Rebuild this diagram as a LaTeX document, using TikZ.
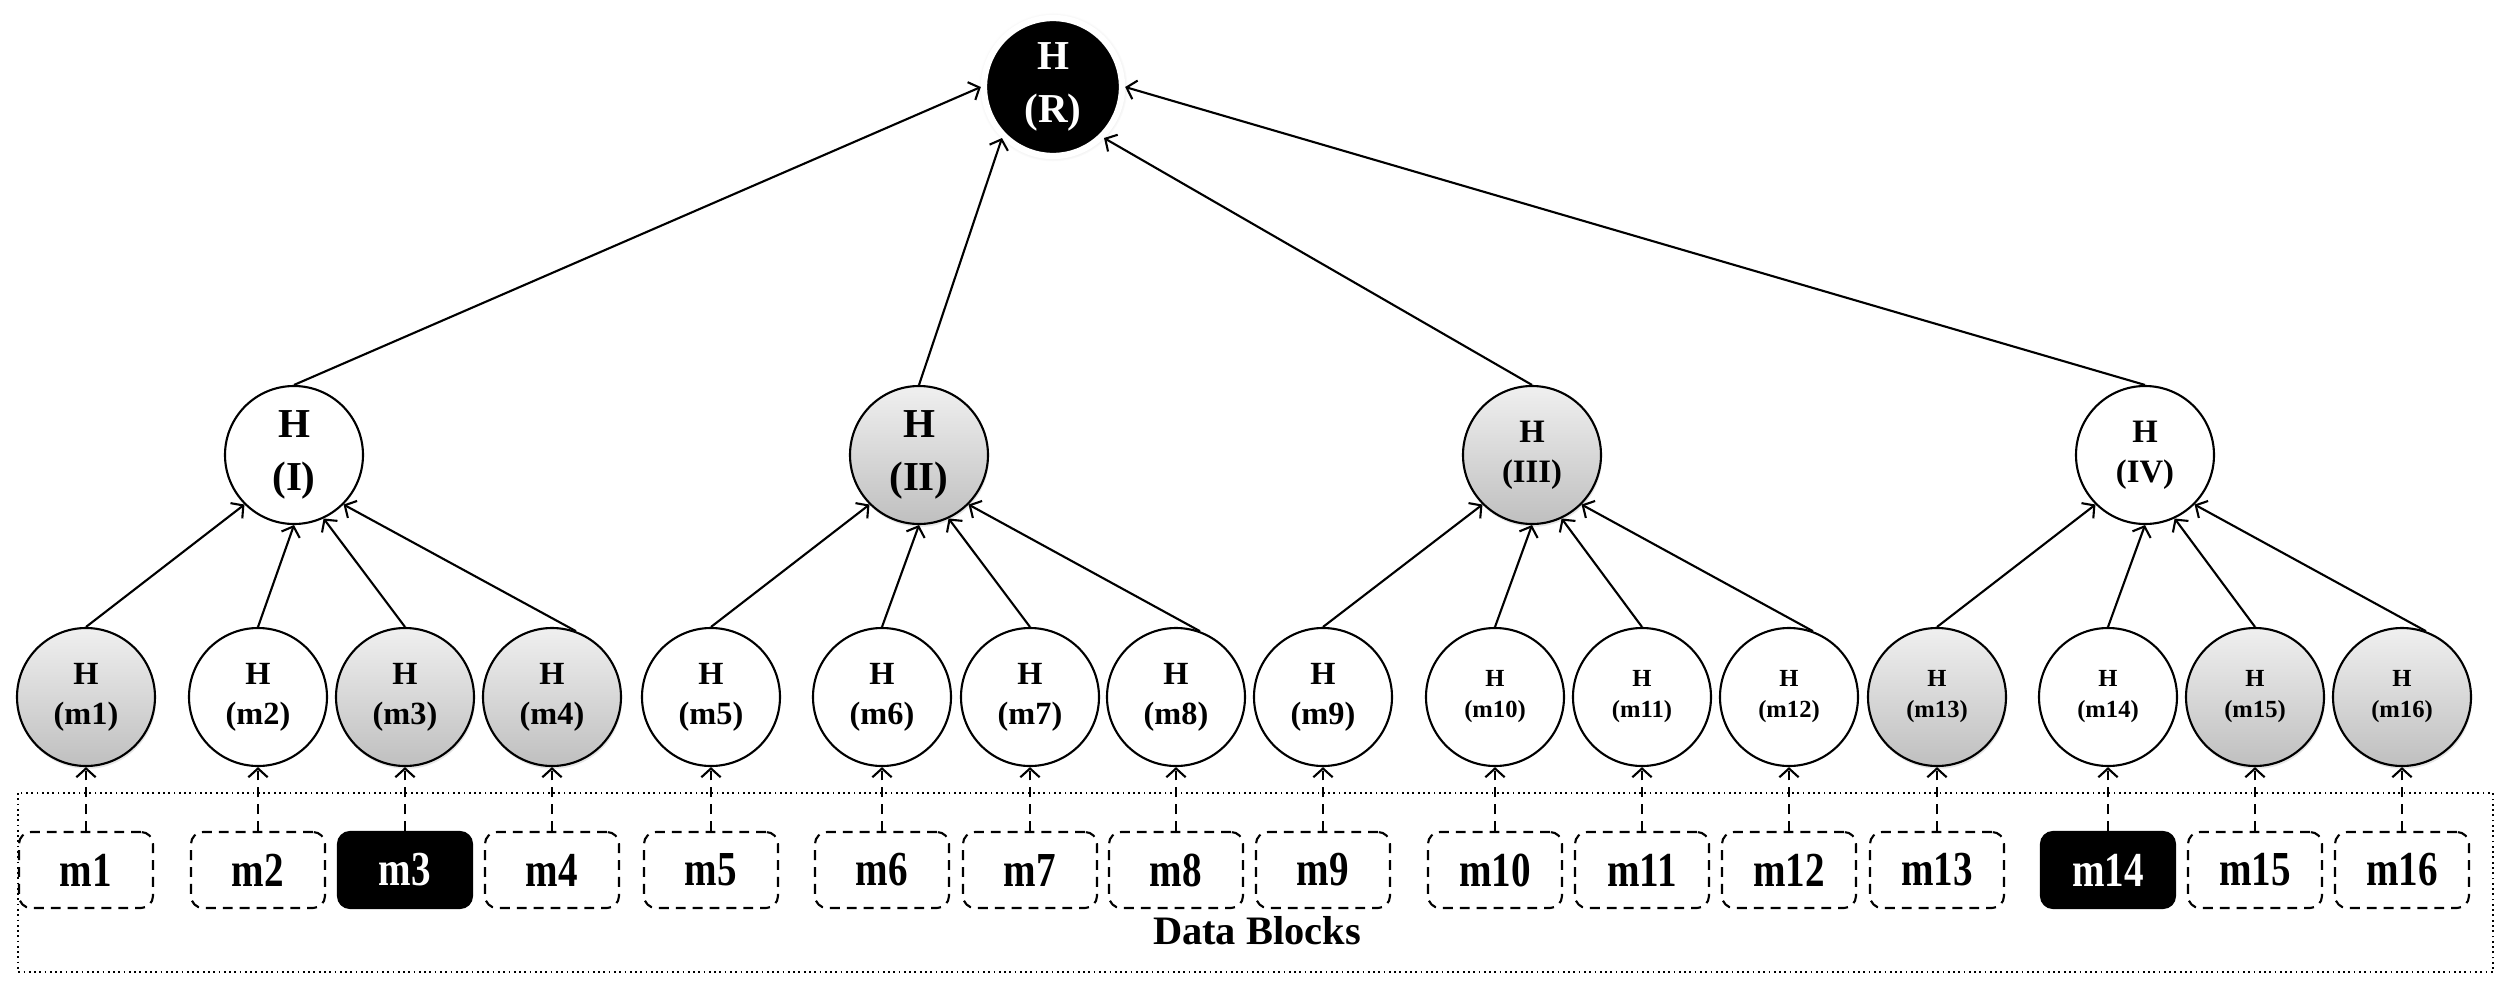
\documentclass[tikz,border=0pt]{standalone}
\usepackage{fontspec}
\setmainfont{Liberation Serif}
\newfontfamily\blockfont[FakeStretch=0.8]{Liberation Serif}
\usetikzlibrary{arrows.meta, shadows}

\begin{document}
\begin{tikzpicture}[
    hashnode/.style={draw, circle, minimum size=1.38cm, inner sep=0pt, align=center, line width=0.6pt, fill=white},
    shaded/.style={top color=gray!12, bottom color=gray!50, drop shadow={opacity=0.2, shadow xshift=0.3pt, shadow yshift=-0.8pt}},
    rootnode/.style={hashnode, fill=black, text=white, draw=white, line width=1.8pt, circular drop shadow={opacity=0.35, shadow xshift=0pt, shadow yshift=0pt, shadow scale=1.08}},
    bigtext/.style={font=\fontsize{11.7}{15.2}\selectfont\bfseries},
    midtext/.style={font=\fontsize{9.3}{11.4}\selectfont\bfseries},
    leaftext/.style={font=\fontsize{9.2}{11.4}\selectfont\bfseries},
    smalltext/.style={font=\fontsize{7}{8.8}\selectfont\bfseries},
    block/.style={draw, dash pattern=on 2.8pt off 2pt, rounded corners=0.12cm, minimum width=1.34cm, minimum height=0.76cm, inner sep=0pt, line width=0.6pt, font=\blockfont\fontsize{13.9}{16}\selectfont\bfseries},
    blockon/.style={block, solid, fill=black, text=white},
    link/.style={line width=0.6pt, -{Straight Barb[length=2.5pt, width=5.5pt]}},
    feed/.style={link, dash pattern=on 2.8pt off 2pt}
]
\useasboundingbox (0,0) rectangle (25.07,-9.81);

% ====================
% Radice
% ====================
\node[rootnode, bigtext] (HR) at (10.53,-0.87) {H\\(R)};

% ====================
% Livello intermedio
% ====================
\node[hashnode, bigtext] (HI) at (2.94,-4.55) {H\\(I)};
\node[hashnode, shaded, bigtext] (HII) at (9.19,-4.55) {H\\(II)};
\node[hashnode, shaded, midtext] (HIII) at (15.32,-4.55) {H\\(III)};
\node[hashnode, midtext] (HIV) at (21.45,-4.55) {H\\(IV)};

% ====================
% Foglie
% ====================
\node[hashnode, shaded, leaftext] (Hm1) at (0.86,-6.97) {H\\(m1)};
\node[hashnode, leaftext] (Hm2) at (2.58,-6.97) {H\\(m2)};
\node[hashnode, shaded, leaftext] (Hm3) at (4.05,-6.97) {H\\(m3)};
\node[hashnode, shaded, leaftext] (Hm4) at (5.52,-6.97) {H\\(m4)};
\node[hashnode, leaftext] (Hm5) at (7.11,-6.97) {H\\(m5)};
\node[hashnode, leaftext] (Hm6) at (8.82,-6.97) {H\\(m6)};
\node[hashnode, leaftext] (Hm7) at (10.30,-6.97) {H\\(m7)};
\node[hashnode, leaftext] (Hm8) at (11.76,-6.97) {H\\(m8)};
\node[hashnode, leaftext] (Hm9) at (13.23,-6.97) {H\\(m9)};
\node[hashnode, smalltext] (Hm10) at (14.95,-6.97) {H\\(m10)};
\node[hashnode, smalltext] (Hm11) at (16.42,-6.97) {H\\(m11)};
\node[hashnode, smalltext] (Hm12) at (17.89,-6.97) {H\\(m12)};
\node[hashnode, shaded, smalltext] (Hm13) at (19.37,-6.97) {H\\(m13)};
\node[hashnode, smalltext] (Hm14) at (21.08,-6.97) {H\\(m14)};
\node[hashnode, shaded, smalltext] (Hm15) at (22.55,-6.97) {H\\(m15)};
\node[hashnode, shaded, smalltext] (Hm16) at (24.02,-6.97) {H\\(m16)};

% ====================
% Blocchi dati
% ====================
\draw[densely dotted, line width=0.5pt] (0.18,-7.93) rectangle (24.93,-9.72);
\node[font=\fontsize{11.5}{14}\selectfont\bfseries] (DB) at (12.57,-9.31) {Data Blocks};

\node[block] (B1) at (0.86,-8.70) {m1};
\node[block] (B2) at (2.58,-8.70) {m2};
\node[blockon] (B3) at (4.05,-8.70) {m3};
\node[block] (B4) at (5.52,-8.70) {m4};
\node[block] (B5) at (7.11,-8.70) {m5};
\node[block] (B6) at (8.82,-8.70) {m6};
\node[block] (B7) at (10.30,-8.70) {m7};
\node[block] (B8) at (11.76,-8.70) {m8};
\node[block] (B9) at (13.23,-8.70) {m9};
\node[block] (B10) at (14.95,-8.70) {m10};
\node[block] (B11) at (16.42,-8.70) {m11};
\node[block] (B12) at (17.89,-8.70) {m12};
\node[block] (B13) at (19.37,-8.70) {m13};
\node[blockon] (B14) at (21.08,-8.70) {m14};
\node[block] (B15) at (22.55,-8.70) {m15};
\node[block] (B16) at (24.02,-8.70) {m16};

% ====================
% Collegamenti
% ====================
% Livello intermedio -> radice
\draw[link] (HI.north) -- (HR.west);
\draw[link] (HII.north) -- (HR.south west);
\draw[link] (HIII.north) -- (HR.south east);
\draw[link] (HIV.north) -- (HR.east);

% Foglie -> livello intermedio
\draw[link] (Hm1.north) -- (HI.south west);
\draw[link] (Hm2.north) -- (HI.south);
\draw[link] (Hm3.north) -- (HI.-65);
\draw[link] (Hm4.70) -- (HI.south east);

\draw[link] (Hm5.north) -- (HII.south west);
\draw[link] (Hm6.north) -- (HII.south);
\draw[link] (Hm7.north) -- (HII.-65);
\draw[link] (Hm8.70) -- (HII.south east);

\draw[link] (Hm9.north) -- (HIII.south west);
\draw[link] (Hm10.north) -- (HIII.south);
\draw[link] (Hm11.north) -- (HIII.-65);
\draw[link] (Hm12.70) -- (HIII.south east);

\draw[link] (Hm13.north) -- (HIV.south west);
\draw[link] (Hm14.north) -- (HIV.south);
\draw[link] (Hm15.north) -- (HIV.-65);
\draw[link] (Hm16.70) -- (HIV.south east);

% Blocchi -> foglie
\draw[feed] (B1.north) -- (Hm1.south);
\draw[feed] (B2.north) -- (Hm2.south);
\draw[feed] (B3.north) -- (Hm3.south);
\draw[feed] (B4.north) -- (Hm4.south);
\draw[feed] (B5.north) -- (Hm5.south);
\draw[feed] (B6.north) -- (Hm6.south);
\draw[feed] (B7.north) -- (Hm7.south);
\draw[feed] (B8.north) -- (Hm8.south);
\draw[feed] (B9.north) -- (Hm9.south);
\draw[feed] (B10.north) -- (Hm10.south);
\draw[feed] (B11.north) -- (Hm11.south);
\draw[feed] (B12.north) -- (Hm12.south);
\draw[feed] (B13.north) -- (Hm13.south);
\draw[feed] (B14.north) -- (Hm14.south);
\draw[feed] (B15.north) -- (Hm15.south);
\draw[feed] (B16.north) -- (Hm16.south);

\end{tikzpicture}
\end{document}
